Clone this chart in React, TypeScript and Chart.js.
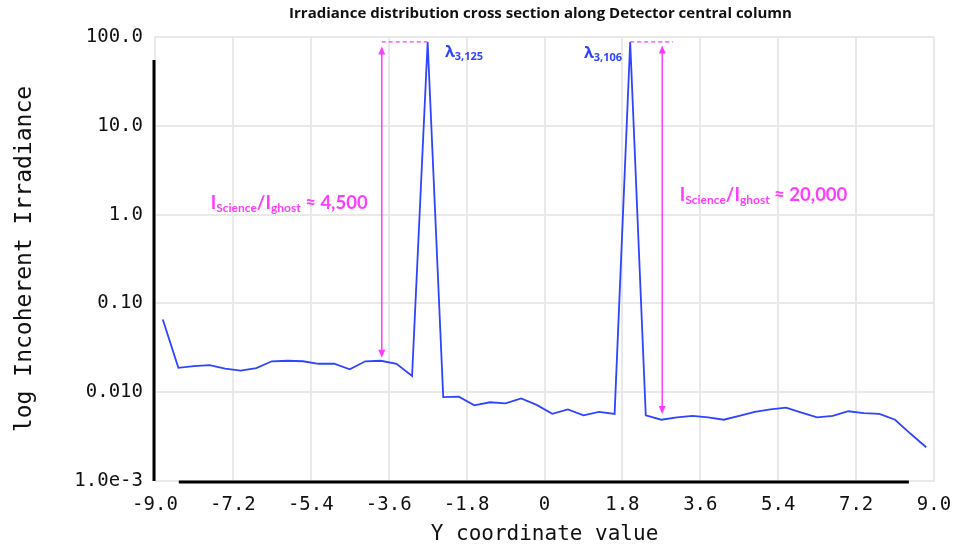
import React, { useEffect, useRef } from "react";
import { Chart, registerables } from "chart.js";

Chart.register(...registerables);

// ---- data ----
const yCoord = [
  -8.82, -8.46, -8.1, -7.74, -7.38, -7.02, -6.66, -6.3, -5.94, -5.58,
  -5.22, -4.86, -4.5, -4.14, -3.78, -3.42, -3.06, -2.7, -2.34, -1.98,
  -1.62, -1.26, -0.9, -0.54, -0.18, 0.18, 0.54, 0.9, 1.26, 1.62,
  1.98, 2.34, 2.7, 3.06, 3.42, 3.78, 4.14, 4.5, 4.86, 5.22,
  5.58, 5.94, 6.3, 6.66, 7.02, 7.38, 7.74, 8.1, 8.46, 8.82,
];
const irradiance = [
  0.066, 0.0188, 0.0197, 0.0202, 0.0184, 0.0175, 0.0187, 0.0223, 0.0226, 0.0223,
  0.0209, 0.0209, 0.0181, 0.0223, 0.0226, 0.0209, 0.0152, 88, 0.0088, 0.0089,
  0.0071, 0.0077, 0.0075, 0.0085, 0.0072, 0.0057, 0.0064, 0.0055, 0.006, 0.0057,
  88, 0.0055, 0.0049, 0.0052, 0.0054, 0.0052, 0.0049, 0.0054, 0.006, 0.0064,
  0.0067, 0.0059, 0.0052, 0.0054, 0.0061, 0.0058, 0.0057, 0.0049, 0.0034, 0.0024,
];
const xTickValues = [-9, -7.2, -5.4, -3.6, -1.8, 0, 1.8, 3.6, 5.4, 7.2, 9];
const xTickLabels = ["-9.0", "-7.2", "-5.4", "-3.6", "-1.8", "0", "1.8", "3.6", "5.4", "7.2", "9.0"];
const yTickValues = [100, 10, 1, 0.1, 0.01, 0.001];
const yTickLabels = ["100.0", "10.0", "1.0", "0.10", "0.010", "1.0e-3"];

const titleText = "Irradiance distribution cross section along Detector central column";
const xTitle = "Y coordinate value";
const yTitle = "log Incoherent Irradiance";

// annotations
const arrowX = [-3.76, 2.72];
const arrowTop = [78, 80];
const arrowBottom = [0.0245, 0.0057];
const dashFromX = [-3.76, 1.98];
const dashToX = [-2.7, 2.97];
const dashY = 88;
const ratioLabels = ["4,500", "20,000"];
const ratioX = [-5.9, 5.06];
const ratioY = [1.16, 1.42];
const lambdaSubs = ["3,125", "3,106"];
const lambdaX = [-2.3, 0.91];
const lambdaY = [60, 58];

const MAGENTA = "#ff3cff";
const BLUE = "#2e44ff";
const GRID = "#e9e9e9";

type Seg = { t: string; size: number; dy: number };

function drawSegs(ctx: CanvasRenderingContext2D, segs: Seg[], x: number, y: number, align: "left" | "center", family: string) {
  let total = 0;
  for (const s of segs) {
    ctx.font = `bold ${s.size}px ${family}`;
    total += ctx.measureText(s.t).width;
  }
  let cx = align === "center" ? x - total / 2 : x;
  ctx.textAlign = "left";
  ctx.textBaseline = "alphabetic";
  for (const s of segs) {
    ctx.font = `bold ${s.size}px ${family}`;
    ctx.fillText(s.t, cx, y + s.dy);
    cx += ctx.measureText(s.t).width;
  }
}

const annotationPlugin = {
  id: "annot",
  afterDatasetsDraw(chart: any) {
    const ctx: CanvasRenderingContext2D = chart.ctx;
    const xs = chart.scales.x;
    const ys = chart.scales.y;
    const area = chart.chartArea;
    ctx.save();
    // black axis overlays
    ctx.strokeStyle = "#000";
    ctx.lineWidth = 3;
    ctx.beginPath();
    ctx.moveTo(area.left - 1, ys.getPixelForValue(55));
    ctx.lineTo(area.left - 1, area.bottom);
    ctx.stroke();
    ctx.beginPath();
    ctx.moveTo(xs.getPixelForValue(-8.45), area.bottom + 1);
    ctx.lineTo(xs.getPixelForValue(8.42), area.bottom + 1);
    ctx.stroke();

    // arrows
    ctx.strokeStyle = MAGENTA;
    ctx.fillStyle = MAGENTA;
    for (let i = 0; i < arrowX.length; i++) {
      const px = xs.getPixelForValue(arrowX[i]);
      const pt = ys.getPixelForValue(arrowTop[i]);
      const pb = ys.getPixelForValue(arrowBottom[i]);
      ctx.lineWidth = 1.5;
      ctx.setLineDash([]);
      ctx.beginPath();
      ctx.moveTo(px, pt + 6);
      ctx.lineTo(px, pb - 6);
      ctx.stroke();
      ctx.beginPath();
      ctx.moveTo(px, pt);
      ctx.lineTo(px - 3.5, pt + 8);
      ctx.lineTo(px + 3.5, pt + 8);
      ctx.closePath();
      ctx.fill();
      ctx.beginPath();
      ctx.moveTo(px, pb);
      ctx.lineTo(px - 3.5, pb - 8);
      ctx.lineTo(px + 3.5, pb - 8);
      ctx.closePath();
      ctx.fill();
      // dashed
      const dy = ys.getPixelForValue(dashY);
      ctx.lineWidth = 1.2;
      ctx.setLineDash([4, 3]);
      ctx.beginPath();
      ctx.moveTo(xs.getPixelForValue(dashFromX[i]), dy);
      ctx.lineTo(xs.getPixelForValue(dashToX[i]), dy);
      ctx.stroke();
      ctx.setLineDash([]);
      // ratio label
      drawSegs(
        ctx,
        [
          { t: "I", size: 18.5, dy: 0 },
          { t: "Science", size: 12, dy: 3 },
          { t: "/I", size: 18.5, dy: 0 },
          { t: "ghost", size: 12, dy: 3 },
          { t: " \u2248 " + ratioLabels[i], size: 18.5, dy: 0 },
        ],
        xs.getPixelForValue(ratioX[i]),
        ys.getPixelForValue(ratioY[i]),
        "center",
        "Lato, 'Open Sans', sans-serif"
      );
    }
    // lambda labels
    ctx.fillStyle = BLUE;
    for (let i = 0; i < lambdaSubs.length; i++) {
      drawSegs(
        ctx,
        [
          { t: "\u03bb", size: 16, dy: 0 },
          { t: lambdaSubs[i], size: 11, dy: 3 },
        ],
        xs.getPixelForValue(lambdaX[i]),
        ys.getPixelForValue(lambdaY[i]),
        "left",
        "'Open Sans', Lato, sans-serif"
      );
    }
    // title
    ctx.fillStyle = "#111";
    ctx.font = "bold 15px 'Open Sans', sans-serif";
    ctx.textAlign = "center";
    ctx.textBaseline = "middle";
    ctx.fillText(titleText, (area.left + area.right) / 2 - 4, 14);
    ctx.restore();
  },
};

export default function App() {
  const ref = useRef<HTMLCanvasElement | null>(null);
  useEffect(() => {
    if (!ref.current) return;
    const mono = "'DejaVu Sans Mono', monospace";
    const chart = new Chart(ref.current, {
      type: "line",
      data: {
        datasets: [
          {
            data: yCoord.map((x, i) => ({ x, y: irradiance[i] })),
            borderColor: BLUE,
            borderWidth: 1.8,
            pointRadius: 0,
            tension: 0,
            fill: false,
          },
        ],
      },
      options: {
        animation: false,
        responsive: false,
        maintainAspectRatio: false,
        layout: { padding: { top: 37, right: 21, left: 0, bottom: 0 } },
        plugins: { legend: { display: false }, tooltip: { enabled: false }, title: { display: false } },
        scales: {
          x: {
            type: "linear",
            min: -9,
            max: 9,
            afterBuildTicks: (s: any) => {
              s.ticks = xTickValues.map((v) => ({ value: v }));
            },
            afterFit: (s: any) => {
              s.height = 66;
            },
            ticks: {
              autoSkip: false,
              maxRotation: 0,
              padding: 2,
              color: "#111",
              font: { family: mono, size: 19, lineHeight: 2.3 },
              callback: (v: any) => {
                const idx = xTickValues.findIndex((t) => Math.abs(t - v) < 1e-6);
                return idx >= 0 ? xTickLabels[idx] : "";
              },
            },
            grid: { color: GRID, lineWidth: 2, drawTicks: false },
            border: { display: true, color: GRID, width: 2 },
            title: { display: true, text: xTitle, color: "#111", font: { family: mono, size: 21 }, padding: { top: 0, bottom: 0 } },
          },
          y: {
            type: "logarithmic",
            min: 0.001,
            max: 100,
            afterBuildTicks: (s: any) => {
              s.ticks = yTickValues.map((v) => ({ value: v }));
            },
            afterFit: (s: any) => {
              s.width = 155;
            },
            ticks: {
              autoSkip: false,
              padding: 12,
              color: "#111",
              font: { family: mono, size: 19 },
              callback: (v: any) => {
                const idx = yTickValues.findIndex((t) => Math.abs(Math.log10(t) - Math.log10(v)) < 1e-6);
                return idx >= 0 ? yTickLabels[idx] : "";
              },
            },
            grid: { color: GRID, lineWidth: 2, drawTicks: false },
            border: { display: true, color: GRID, width: 2 },
            title: { display: true, text: yTitle, color: "#111", font: { family: mono, size: 23 }, padding: { top: 11, bottom: 0 } },
          },
        },
      },
      plugins: [annotationPlugin],
    } as any);
    return () => chart.destroy();
  }, []);
  return (
    <div style={{ position: "absolute", left: 0, top: 0, width: 955, height: 547, background: "#fff" }}>
      <canvas ref={ref} width={955} height={547} style={{ display: "block" }} />
    </div>
  );
}
